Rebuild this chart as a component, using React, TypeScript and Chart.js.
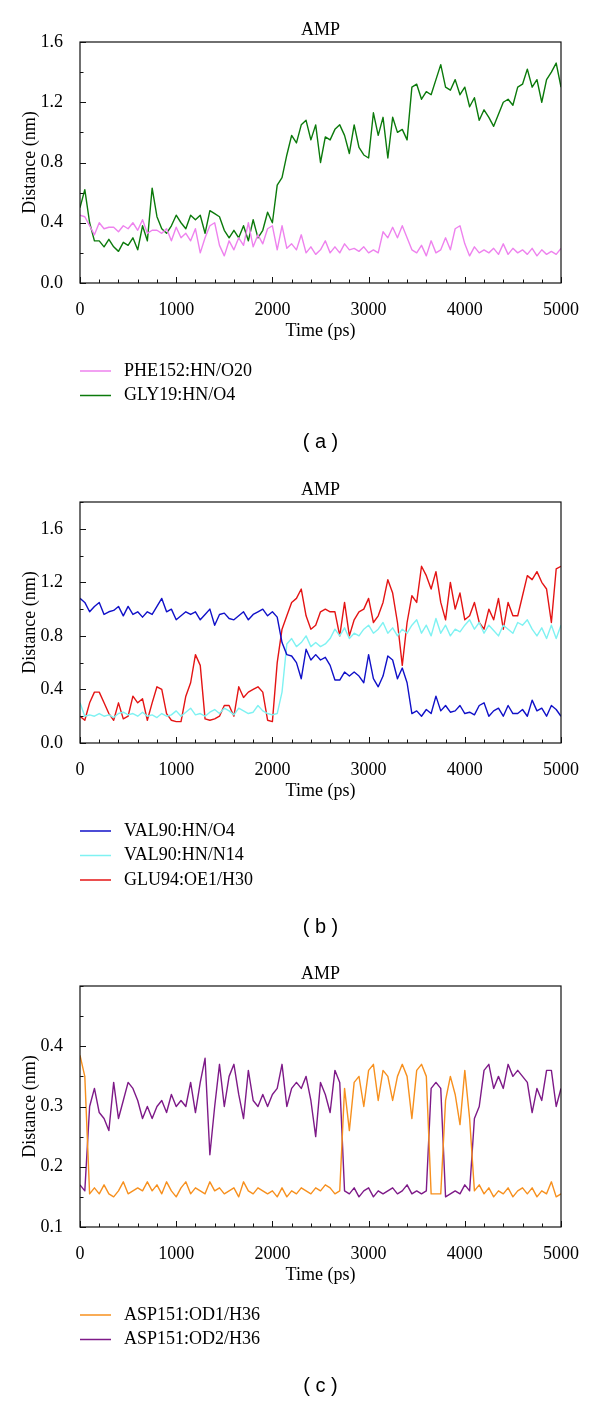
import React, { useEffect, useRef } from 'react';
import { Chart, registerables } from 'chart.js';

Chart.register(...registerables);

// ---- data (time in ps, sampled every 50 ps) ----
const timePs: number[] = Array.from({ length: 101 }, (_, i) => i * 50);

const xTickLabels = [0, 1000, 2000, 3000, 4000, 5000];
const yTickLabelsA = [0, 0.4, 0.8, 1.2, 1.6];
const yTickLabelsB = [0, 0.4, 0.8, 1.2, 1.6];
const yTickLabelsC = [0.1, 0.2, 0.3, 0.4];

// panel (a)
const phe152HN_O20 = [
  0.45, 0.44, 0.38, 0.32, 0.40, 0.36, 0.37, 0.37, 0.34, 0.38,
  0.36, 0.40, 0.35, 0.42, 0.33, 0.35, 0.35, 0.33, 0.36, 0.28,
  0.37, 0.30, 0.33, 0.28, 0.36, 0.20, 0.30, 0.38, 0.40, 0.25,
  0.18, 0.28, 0.22, 0.30, 0.25, 0.40, 0.24, 0.32, 0.26, 0.36,
  0.38, 0.22, 0.38, 0.23, 0.26, 0.22, 0.32, 0.20, 0.24, 0.19,
  0.22, 0.28, 0.20, 0.24, 0.20, 0.26, 0.22, 0.23, 0.21, 0.24,
  0.20, 0.22, 0.20, 0.34, 0.30, 0.37, 0.30, 0.38, 0.30, 0.22,
  0.20, 0.25, 0.18, 0.28, 0.20, 0.22, 0.30, 0.22, 0.36, 0.38,
  0.26, 0.18, 0.24, 0.20, 0.22, 0.20, 0.23, 0.19, 0.26, 0.19,
  0.23, 0.20, 0.22, 0.19, 0.23, 0.18, 0.22, 0.19, 0.21, 0.19,
  0.23,
];
const gly19HN_O4 = [
  0.50, 0.62, 0.40, 0.28, 0.28, 0.24, 0.29, 0.24, 0.21, 0.27,
  0.25, 0.30, 0.22, 0.38, 0.28, 0.63, 0.44, 0.36, 0.33, 0.38,
  0.45, 0.40, 0.36, 0.45, 0.42, 0.45, 0.33, 0.48, 0.46, 0.44,
  0.35, 0.30, 0.35, 0.30, 0.38, 0.28, 0.42, 0.30, 0.35, 0.47,
  0.40, 0.65, 0.70, 0.85, 0.98, 0.93, 1.05, 1.08, 0.95, 1.05,
  0.80, 0.97, 0.95, 1.02, 1.05, 0.98, 0.86, 1.05, 0.90, 0.85,
  0.83, 1.13, 0.98, 1.10, 0.83, 1.10, 1.00, 1.02, 0.95, 1.30,
  1.32, 1.22, 1.27, 1.25, 1.35, 1.45, 1.30, 1.28, 1.35, 1.25,
  1.30, 1.17, 1.23, 1.08, 1.15, 1.10, 1.04, 1.12, 1.20, 1.22,
  1.18, 1.30, 1.32, 1.42, 1.30, 1.35, 1.20, 1.35, 1.40, 1.46,
  1.30,
];

// panel (b)
const val90HN_O4 = [
  1.08, 1.05, 0.98, 1.02, 1.05, 0.96, 0.98, 0.99, 1.02, 0.95,
  1.02, 0.96, 0.98, 0.94, 0.98, 0.96, 1.02, 1.08, 0.98, 1.00,
  0.92, 0.95, 0.98, 0.96, 0.98, 0.92, 0.96, 1.00, 0.88, 0.96,
  0.97, 0.93, 0.92, 0.95, 0.98, 0.92, 0.96, 0.98, 1.00, 0.95,
  0.98, 0.94, 0.75, 0.66, 0.65, 0.60, 0.48, 0.70, 0.62, 0.66,
  0.62, 0.64, 0.58, 0.47, 0.47, 0.53, 0.50, 0.53, 0.50, 0.45,
  0.66, 0.48, 0.42, 0.50, 0.65, 0.62, 0.48, 0.56, 0.45, 0.22,
  0.24, 0.20, 0.25, 0.22, 0.35, 0.24, 0.28, 0.23, 0.24, 0.28,
  0.22, 0.23, 0.21, 0.28, 0.30, 0.20, 0.24, 0.26, 0.20, 0.28,
  0.22, 0.22, 0.25, 0.20, 0.32, 0.24, 0.26, 0.20, 0.28, 0.25,
  0.20,
];
const val90HN_N14 = [
  0.30, 0.20, 0.21, 0.20, 0.22, 0.20, 0.21, 0.19, 0.22, 0.23,
  0.21, 0.22, 0.20, 0.23, 0.20, 0.21, 0.19, 0.22, 0.20, 0.21,
  0.24, 0.20, 0.23, 0.26, 0.21, 0.22, 0.20, 0.23, 0.25, 0.22,
  0.26, 0.24, 0.21, 0.26, 0.24, 0.22, 0.23, 0.28, 0.24, 0.22,
  0.21, 0.22, 0.38, 0.74, 0.78, 0.72, 0.75, 0.80, 0.72, 0.75,
  0.72, 0.74, 0.78, 0.85, 0.80, 0.86, 0.78, 0.82, 0.80, 0.85,
  0.88, 0.82, 0.85, 0.90, 0.82, 0.86, 0.80, 0.85, 0.82, 0.88,
  0.92, 0.82, 0.88, 0.80, 0.93, 0.82, 0.88, 0.80, 0.85, 0.83,
  0.88, 0.92, 0.85, 0.90, 0.82, 0.88, 0.84, 0.80, 0.88, 0.85,
  0.82, 0.90, 0.88, 0.92, 0.85, 0.80, 0.86, 0.78, 0.88, 0.78,
  0.88,
];
const glu94OE1_H30 = [
  0.20, 0.17, 0.30, 0.38, 0.38, 0.30, 0.22, 0.17, 0.30, 0.18,
  0.20, 0.35, 0.30, 0.33, 0.17, 0.30, 0.42, 0.40, 0.22, 0.17,
  0.16, 0.16, 0.35, 0.45, 0.66, 0.58, 0.18, 0.17, 0.18, 0.20,
  0.28, 0.28, 0.20, 0.42, 0.34, 0.38, 0.40, 0.42, 0.38, 0.17,
  0.16, 0.60, 0.85, 0.95, 1.05, 1.08, 1.15, 0.95, 0.85, 0.88,
  0.98, 1.00, 0.98, 0.98, 0.80, 1.05, 0.80, 0.92, 0.98, 1.00,
  1.08, 0.90, 0.95, 1.05, 1.22, 1.12, 0.90, 0.58, 0.90, 1.10,
  1.05, 1.32, 1.25, 1.15, 1.28, 1.05, 0.92, 1.20, 1.00, 1.12,
  0.92, 0.95, 1.05, 0.90, 0.85, 1.00, 0.92, 1.08, 0.85, 1.05,
  0.95, 0.95, 1.10, 1.25, 1.22, 1.28, 1.20, 1.15, 0.90, 1.30,
  1.32,
];

// panel (c)
const asp151OD1_H36 = [
  0.385, 0.35, 0.155, 0.165, 0.155, 0.17, 0.155, 0.15, 0.16, 0.175,
  0.155, 0.16, 0.165, 0.16, 0.175, 0.16, 0.17, 0.155, 0.175, 0.16,
  0.15, 0.165, 0.175, 0.155, 0.165, 0.16, 0.155, 0.175, 0.16, 0.165,
  0.155, 0.16, 0.165, 0.15, 0.175, 0.16, 0.155, 0.165, 0.16, 0.155,
  0.16, 0.15, 0.165, 0.15, 0.16, 0.155, 0.165, 0.16, 0.155, 0.165,
  0.16, 0.17, 0.165, 0.155, 0.16, 0.33, 0.26, 0.34, 0.35, 0.30,
  0.36, 0.37, 0.31, 0.36, 0.35, 0.31, 0.35, 0.37, 0.35, 0.28,
  0.36, 0.37, 0.35, 0.155, 0.155, 0.155, 0.31, 0.35, 0.32, 0.27,
  0.36, 0.28, 0.16, 0.17, 0.155, 0.165, 0.15, 0.16, 0.155, 0.165,
  0.15, 0.16, 0.165, 0.155, 0.165, 0.15, 0.16, 0.155, 0.175, 0.15,
  0.155,
];
const asp151OD2_H36 = [
  0.17, 0.16, 0.30, 0.33, 0.29, 0.28, 0.26, 0.34, 0.28, 0.31,
  0.34, 0.33, 0.31, 0.28, 0.30, 0.28, 0.30, 0.31, 0.29, 0.32,
  0.30, 0.31, 0.30, 0.34, 0.29, 0.34, 0.38, 0.22, 0.30, 0.37,
  0.30, 0.35, 0.37, 0.32, 0.28, 0.36, 0.31, 0.30, 0.32, 0.30,
  0.32, 0.33, 0.37, 0.30, 0.33, 0.34, 0.33, 0.35, 0.31, 0.25,
  0.34, 0.32, 0.29, 0.36, 0.34, 0.16, 0.155, 0.165, 0.15, 0.16,
  0.165, 0.15, 0.16, 0.155, 0.16, 0.165, 0.155, 0.16, 0.17, 0.155,
  0.16, 0.155, 0.16, 0.33, 0.34, 0.33, 0.15, 0.155, 0.16, 0.155,
  0.17, 0.16, 0.28, 0.30, 0.36, 0.37, 0.33, 0.35, 0.33, 0.37,
  0.35, 0.36, 0.35, 0.34, 0.29, 0.33, 0.31, 0.36, 0.36, 0.30,
  0.33,
];

type Series = { label: string; color: string; values: number[] };
type Panel = {
  top: number; height: number; plotTop: number; plotBottom: number;
  yMin: number; yMax: number; yStep: number; yLabels: number[];
  caption: string; series: Series[];
};

const panels: Panel[] = [
  {
    top: 0, height: 470, plotTop: 42, plotBottom: 283,
    yMin: 0, yMax: 1.6, yStep: 0.2, yLabels: yTickLabelsA, caption: '( a )',
    series: [
      { label: 'PHE152:HN/O20', color: '#ee82ee', values: phe152HN_O20 },
      { label: 'GLY19:HN/O4', color: '#0b7a0b', values: gly19HN_O4 },
    ],
  },
  {
    top: 470, height: 480, plotTop: 502, plotBottom: 743,
    yMin: 0, yMax: 1.8, yStep: 0.2, yLabels: yTickLabelsB, caption: '( b )',
    series: [
      { label: 'VAL90:HN/O4', color: '#1010c8', values: val90HN_O4 },
      { label: 'VAL90:HN/N14', color: '#7ff2f2', values: val90HN_N14 },
      { label: 'GLU94:OE1/H30', color: '#e41414', values: glu94OE1_H30 },
    ],
  },
  {
    top: 950, height: 452, plotTop: 986, plotBottom: 1227,
    yMin: 0.1, yMax: 0.5, yStep: 0.05, yLabels: yTickLabelsC, caption: '( c )',
    series: [
      { label: 'ASP151:OD1/H36', color: '#f7901e', values: asp151OD1_H36 },
      { label: 'ASP151:OD2/H36', color: '#7e1a88', values: asp151OD2_H36 },
    ],
  },
];

const SERIF = '"Liberation Serif", "Times New Roman", serif';
const SANS = '"Liberation Sans", Arial, sans-serif';
const X_AXIS_H = 61;
const Y_AXIS_W = 80;
const RIGHT_PAD = 39;
const INK = '#000';

const near = (a: number, b: number) => Math.abs(a - b) < 1e-6;

const decorPlugin = {
  id: 'decor',
  afterDraw(chart: any, _args: any, opts: any) {
    const { ctx, chartArea: a } = chart;
    const xs = chart.scales.x;
    const ys = chart.scales.y;
    ctx.save();
    // frame
    ctx.strokeStyle = '#111';
    ctx.lineWidth = 1.2;
    ctx.strokeRect(a.left, a.top, a.right - a.left, a.bottom - a.top);
    // inward ticks
    ctx.lineWidth = 1;
    ctx.beginPath();
    xs.ticks.forEach((t: any) => {
      const px = Math.round(xs.getPixelForValue(t.value)) + 0.5;
      const major = xTickLabels.some((v) => near(v, t.value));
      const len = major ? 6 : 3.5;
      ctx.moveTo(px, a.bottom);
      ctx.lineTo(px, a.bottom - len);
    });
    ys.ticks.forEach((t: any) => {
      const py = Math.round(ys.getPixelForValue(t.value)) + 0.5;
      const major = (opts.yLabels as number[]).some((v) => near(v, t.value));
      const len = major ? 6 : 3.5;
      ctx.moveTo(a.left, py);
      ctx.lineTo(a.left + len, py);
    });
    ctx.stroke();
    // title
    const cx = (a.left + a.right) / 2;
    ctx.fillStyle = INK;
    ctx.font = `18px ${SERIF}`;
    ctx.textAlign = 'center';
    ctx.textBaseline = 'middle';
    ctx.fillText('AMP', cx, a.top - 12);
    // legend
    let y = a.bottom + 88;
    chart.data.datasets.forEach((ds: any, i: number) => {
      y = a.bottom + 88 + i * 24.5;
      ctx.strokeStyle = ds.borderColor;
      ctx.lineWidth = 1.5;
      ctx.beginPath();
      ctx.moveTo(a.left, y);
      ctx.lineTo(a.left + 31, y);
      ctx.stroke();
      ctx.textAlign = 'left';
      ctx.fillStyle = INK;
      ctx.fillText(ds.label, a.left + 44, y);
    });
    // caption
    ctx.font = `20px ${SANS}`;
    ctx.textAlign = 'center';
    ctx.fillText(opts.caption, cx, y + 47);
    ctx.restore();
  },
};

function PanelChart({ p }: { p: Panel }) {
  const ref = useRef<HTMLCanvasElement | null>(null);
  useEffect(() => {
    if (!ref.current) return;
    const chart = new Chart(ref.current, {
      type: 'line',
      data: {
        datasets: p.series.map((s) => ({
          label: s.label,
          data: timePs.map((t, i) => ({ x: t, y: s.values[i] })),
          borderColor: s.color,
          backgroundColor: s.color,
          borderWidth: 1.4,
          borderJoinStyle: 'round' as const,
          pointRadius: 0,
          tension: 0,
          fill: false,
        })),
      },
      options: {
        animation: false,
        responsive: false,
        devicePixelRatio: 1,
        events: [],
        layout: {
          padding: {
            left: 0,
            right: RIGHT_PAD,
            top: p.plotTop - p.top,
            bottom: p.top + p.height - p.plotBottom - X_AXIS_H,
          },
        },
        plugins: {
          legend: { display: false },
          title: { display: false },
          tooltip: { enabled: false },
          decor: { yLabels: p.yLabels, caption: p.caption },
        } as any,
        scales: {
          x: {
            type: 'linear',
            min: 0,
            max: 5000,
            grid: { display: false },
            border: { display: false },
            afterFit: (s: any) => { s.height = X_AXIS_H; },
            ticks: {
              stepSize: 200,
              autoSkip: false,
              maxRotation: 0,
              minRotation: 0,
              padding: 8,
              color: INK,
              font: { family: SERIF, size: 18 },
              callback: (v: any) => (xTickLabels.some((l) => near(l, Number(v))) ? String(Math.round(Number(v))) : ''),
            },
            title: {
              display: true,
              text: 'Time (ps)',
              color: INK,
              font: { family: SERIF, size: 18 },
              padding: { top: 0, bottom: 2 },
            },
          },
          y: {
            type: 'linear',
            min: p.yMin,
            max: p.yMax,
            grid: { display: false },
            border: { display: false },
            afterFit: (s: any) => { s.width = Y_AXIS_W; },
            ticks: {
              stepSize: p.yStep,
              autoSkip: false,
              padding: 9,
              color: INK,
              font: { family: SERIF, size: 18 },
              callback: (v: any) => (p.yLabels.some((l) => near(l, Number(v))) ? Number(v).toFixed(1) : ''),
            },
            title: {
              display: true,
              text: 'Distance (nm)',
              color: INK,
              font: { family: SERIF, size: 18 },
              padding: { top: 19, bottom: 0 },
            },
          },
        },
      },
      plugins: [decorPlugin],
    });
    return () => chart.destroy();
  }, [p]);
  return (
    <canvas
      ref={ref}
      width={600}
      height={p.height}
      style={{ position: 'absolute', left: 0, top: p.top, width: 600, height: p.height, display: 'block' }}
    />
  );
}

export default function App() {
  return (
    <div style={{ position: 'absolute', left: 0, top: 0, width: 600, height: 1402, background: '#fff', overflow: 'hidden' }}>
      {panels.map((p, i) => (
        <PanelChart key={i} p={p} />
      ))}
    </div>
  );
}
